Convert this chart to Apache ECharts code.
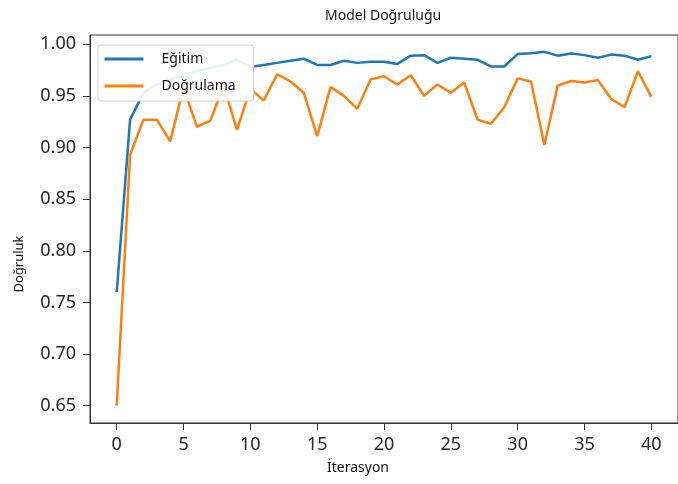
<!DOCTYPE html>
<html style="height: 100%">
<head>
    <meta charset="utf-8">
    <title>index</title>
    <style>
        html, body { margin: 0; padding: 0; background: #fff; }
        #container { width: 678px; height: 484px; }
    </style>
</head>
<body>
    <div id="container"></div>
</body>
<script src="https://cdn.jsdelivr.net/npm/echarts@6/dist/echarts.min.js"></script>
<script type="text/javascript">
    var dom = document.getElementById("container");
    var myChart = echarts.init(dom);

    // iterasyon numaralari (x ekseni)
    var iterasyon = [0, 1, 2, 3, 4, 5, 6, 7, 8, 9, 10, 11, 12, 13, 14, 15, 16, 17, 18, 19, 20,
        21, 22, 23, 24, 25, 26, 27, 28, 29, 30, 31, 32, 33, 34, 35, 36, 37, 38, 39, 40];

    var egitim = [0.760, 0.927, 0.953, 0.961, 0.966, 0.970, 0.974, 0.977, 0.980, 0.985,
        0.978, 0.980, 0.982, 0.984, 0.986, 0.980, 0.980, 0.984, 0.982, 0.983,
        0.983, 0.981, 0.989, 0.9895, 0.982, 0.987, 0.986, 0.985, 0.9785, 0.9785,
        0.9905, 0.9914, 0.9927, 0.989, 0.991, 0.9895, 0.987, 0.990, 0.989, 0.985, 0.9885];

    var dogrulama = [0.650, 0.893, 0.927, 0.927, 0.906, 0.958, 0.920, 0.926, 0.960, 0.917,
        0.957, 0.9455, 0.971, 0.964, 0.953, 0.911, 0.9585, 0.950, 0.9375, 0.966,
        0.969, 0.961, 0.970, 0.950, 0.961, 0.953, 0.963, 0.927, 0.923, 0.939,
        0.967, 0.964, 0.9025, 0.960, 0.9645, 0.963, 0.9655, 0.947, 0.939, 0.974, 0.949];

    var xTicks = [0, 5, 10, 15, 20, 25, 30, 35, 40];
    var yTicks = [0.65, 0.70, 0.75, 0.80, 0.85, 0.90, 0.95, 1.00];

    function pairs(vals) {
        return iterasyon.map(function (x, i) { return [x, vals[i]]; });
    }

    var font = 'Noto Sans';

    option = {
        backgroundColor: '#fff',
        animation: false,
        title: {
            text: 'Model Doğruluğu',
            left: 320,
            top: 4,
            textStyle: { fontFamily: font, fontSize: 14, fontWeight: 'normal', color: '#111' }
        },
        legend: {
            z: 10,
            orient: 'vertical',
            left: 98,
            top: 45,
            padding: [7, 18, 8, 5],
            itemWidth: 39,
            itemHeight: 14,
            itemGap: 13,
            backgroundColor: 'rgba(255,255,255,0.9)',
            borderColor: '#d0d0d0',
            borderWidth: 1,
            borderRadius: 3,
            itemStyle: { opacity: 0 },
            lineStyle: { width: 3 },
            textStyle: { fontFamily: font, fontSize: 14, color: '#111', padding: [0, 0, 0, 13] },
            data: ['Eğitim', 'Doğrulama']
        },
        grid: {
            left: 90,
            top: 35,
            width: 596,
            height: 388,
            show: true,
            borderColor: '#333',
            borderWidth: 1,
            containLabel: false
        },
        xAxis: {
            type: 'value',
            min: -2,
            max: 42,
            axisLine: { show: true, onZero: false, lineStyle: { color: '#333' } },
            axisTick: { show: true, length: 7, customValues: xTicks, lineStyle: { color: '#333' } },
            axisLabel: {
                customValues: xTicks,
                margin: 13,
                fontFamily: font,
                fontSize: 18,
                color: '#262626'
            },
            splitLine: { show: false }
        },
        yAxis: {
            type: 'value',
            min: 0.6332,
            max: 1.009,
            axisLine: { show: true, onZero: false, lineStyle: { color: '#333' } },
            axisTick: { show: true, length: 7, customValues: yTicks, lineStyle: { color: '#333' } },
            axisLabel: {
                customValues: yTicks,
                margin: 14,
                fontFamily: font,
                fontSize: 18,
                color: '#262626',
                formatter: function (v) { return v.toFixed(2); }
            },
            splitLine: { show: false }
        },
        graphic: [{
            type: 'text',
            x: 358,
            y: 468,
            style: {
                text: 'İterasyon',
                font: '14px "Noto Sans"',
                fill: '#111',
                align: 'center',
                verticalAlign: 'middle'
            }
        }, {
            type: 'text',
            x: 19,
            y: 264,
            rotation: Math.PI / 2,
            style: {
                text: 'Doğruluk',
                font: '13px "Noto Sans"',
                fill: '#111',
                align: 'center',
                verticalAlign: 'middle'
            }
        }],
        series: [{
            name: 'Eğitim',
            type: 'line',
            data: pairs(egitim),
            symbol: 'none',
            lineStyle: { color: '#1f77b4', width: 2.5 },
            itemStyle: { color: '#1f77b4' }
        }, {
            name: 'Doğrulama',
            type: 'line',
            data: pairs(dogrulama),
            symbol: 'none',
            lineStyle: { color: '#ff7f0e', width: 2.5 },
            itemStyle: { color: '#ff7f0e' }
        }]
    };
    if (option && typeof option === "object") {
        myChart.setOption(option, true);
    };
</script>
</html>
